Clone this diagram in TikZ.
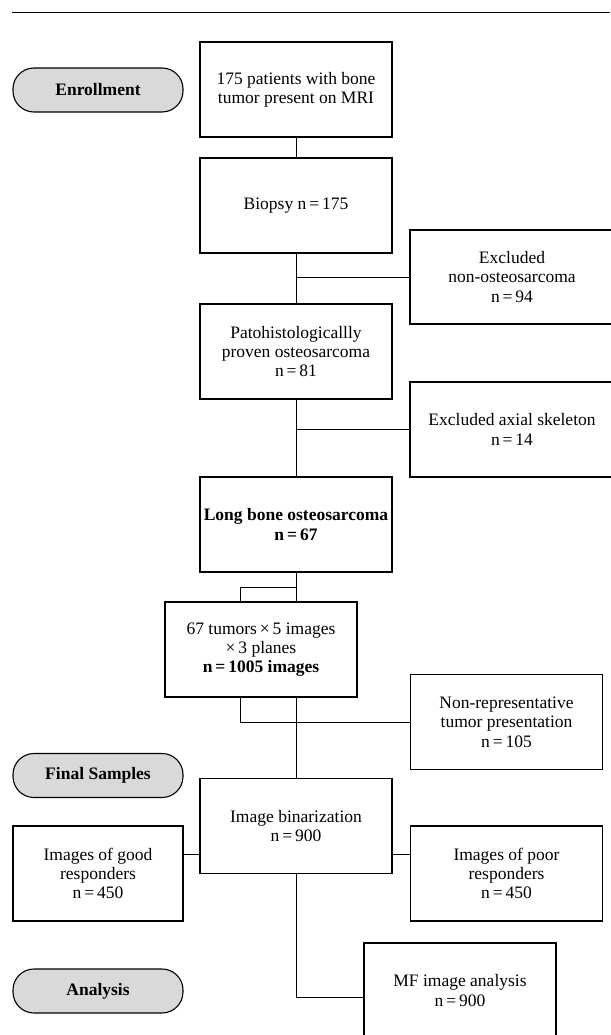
\documentclass[tikz,border=0pt]{standalone}
\usepackage{fontspec}
\setmainfont{Liberation Serif}

\begin{document}
\begin{tikzpicture}[x=1pt,y=-1pt]
        \tikzset{box/.style={draw,line width=1.1pt,minimum width=192pt,minimum height=95pt,
            align=center,inner sep=1pt,font=\fontsize{17.5}{19.3}\selectfont},
          stage/.style={draw,line width=1.1pt,fill=gray!30,rounded corners=21pt,
            minimum width=170pt,minimum height=44pt,font=\fontsize{17.5}{20}\selectfont\bfseries},
          link/.style={draw,line width=1pt}}
        \useasboundingbox (0,0) rectangle (610,1035);
        \coordinate (rule l) at (12,13);
        \coordinate (rule r) at (610,13);
        \draw[line width=1pt] (rule l) -- (rule r);

        \node[stage] (enroll) at (98,90) {Enrollment};
        \node[stage] (final) at (98,775.5) {Final Samples};
        \node[stage] (analysis) at (98,991) {Analysis};

        \node[box] (patients) at (296,89.5) {175 patients with bone\\tumor present on MRI};
        \node[box] (biopsy) at (296,205.5) {Biopsy n\,=\,175};
        \node[box] (proven) at (296,351.5) {Patohistologicallly\\proven osteosarcoma\\n\,=\,81};
        \node[box] (long) at (296,524.5) {\textbf{Long bone osteosarcoma}\\\textbf{n\,=\,67}};
        \node[box] (tumors) at (261,649.5) {67 tumors\,×\,5 images\\×\,3 planes\\\textbf{n\,=\,1005 images}};
        \node[box] (binar) at (296,826) {Image binarization\\n\,=\,900};
        \node[box,minimum width=170pt] (good) at (98,873.5) {Images of good\\responders\\n\,=\,450};
        \node[box] (poor) at (506.5,873.5) {Images of poor\\responders\\n\,=\,450};
        \node[box] (mf) at (460,990.5) {MF image analysis\\n\,=\,900};
        \node[box,minimum width=204pt,minimum height=94pt] (exnon) at (512,277) {Excluded\\non-osteosarcoma\\n\,=\,94};
        \node[box,minimum width=204pt] (exaxial) at (512,429.5) {Excluded axial skeleton\\n\,=\,14};
        \node[box] (exrep) at (506.5,722) {Non-representative\\tumor presentation\\n\,=\,105};

        \draw[link] (patients) -- (biopsy);
        \draw[link] (biopsy) -- (proven);
        \draw[link] (biopsy.south |- exnon.west) -- (exnon.west);
        \draw[link] (proven) -- (long);
        \draw[link] (proven.south |- exaxial.west) -- (exaxial.west);
        \draw[link] (long.south) -- (long.south |- tumors.north);
        \coordinate (fork) at (240,587);
        \draw[link] (long.south |- fork) -- (fork) -- (fork |- tumors.north);
        \draw[link] (fork |- tumors.south) |- (exrep.west);
        \draw[link] (long.south |- tumors.south) -- (binar.north);
        \coordinate (side) at (0,854);
        \draw[link] (good.east |- side) -- (binar.west |- side);
        \draw[link] (binar.east |- side) -- (poor.west |- side);
        \coordinate (down) at (0,997);
        \draw[link] (binar.south) |- (mf.west |- down);
      \end{tikzpicture}
\end{document}
